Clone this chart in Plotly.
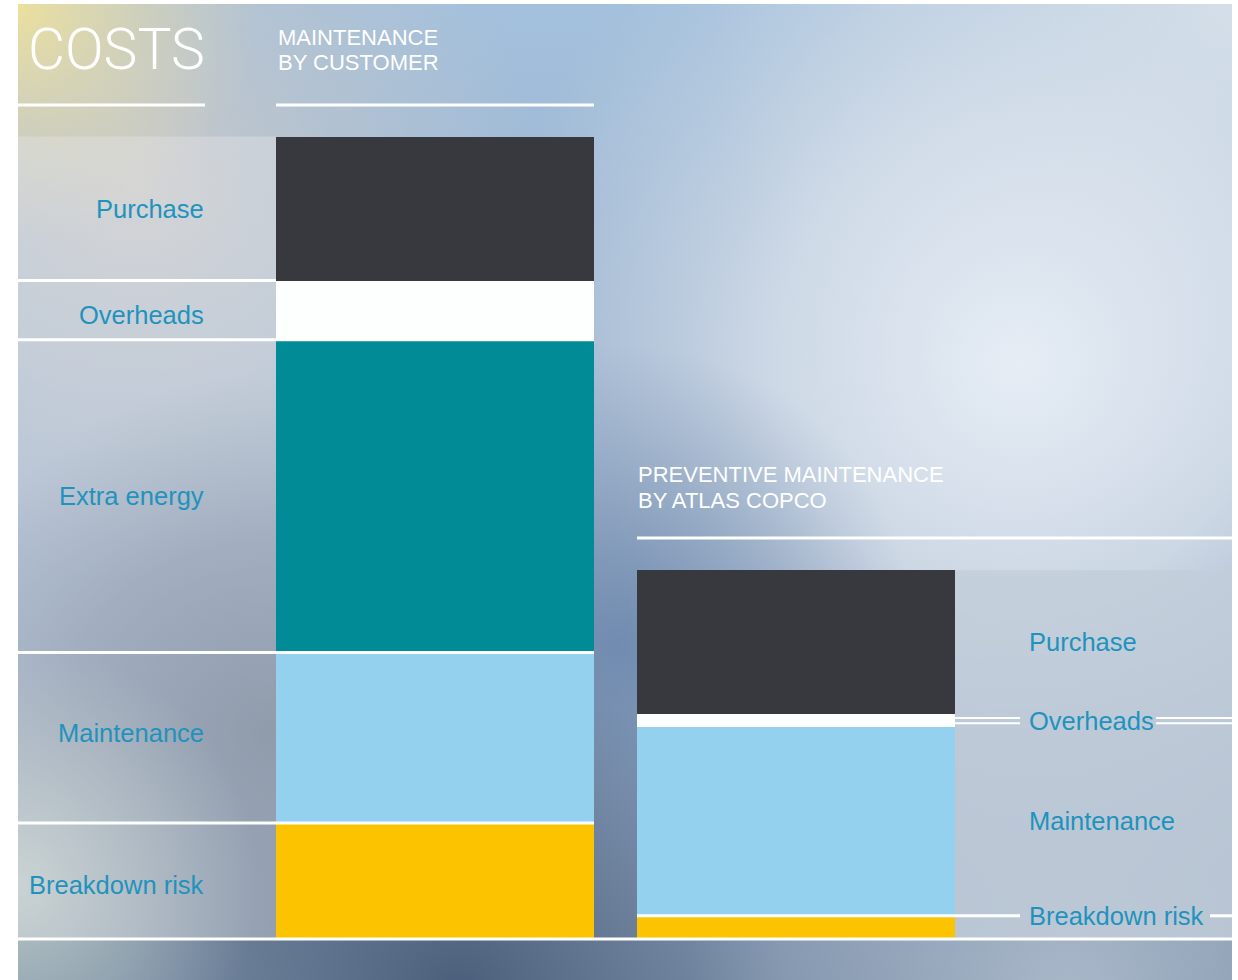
import base64
import plotly.graph_objects as go

# ---------------- data ----------------
segments = ["Purchase", "Overheads", "Extra energy", "Maintenance", "Breakdown risk"]
customer_costs = [18.0, 7.4, 39.1, 21.3, 14.5]      # maintenance by customer
atlas_costs = [18.0, 1.6, 0.0, 23.6, 2.9]           # preventive maintenance by Atlas Copco
seg_colors = ["#37393e", "#fdfefe", "#008b97", "#93d1ee", "#fbc300"]
bar_names = ["MAINTENANCE BY CUSTOMER", "PREVENTIVE MAINTENANCE BY ATLAS COPCO"]
title_text = "COSTS"
sub1 = ["MAINTENANCE", "BY CUSTOMER"]
sub2 = ["PREVENTIVE MAINTENANCE", "BY ATLAS COPCO"]

W, H = 1238, 980
PXU = 8.0            # pixels per value unit
BASE_PX = 939        # baseline pixel row
C0, C1, PITCH = 435, 796, 361


def px(x):
    return x / W


def py(y):
    return 1 - y / H


# ---------------- background (blurred photo look) ----------------
svg = f"""<svg xmlns="http://www.w3.org/2000/svg" width="1214" height="976" viewBox="0 0 1214 976">
<defs>
<linearGradient id="base" x1="0" y1="0" x2="0" y2="1">
 <stop offset="0" stop-color="#a3c0dc"/>
 <stop offset="0.45" stop-color="#9ab0cc"/>
 <stop offset="1" stop-color="#7a8ea8"/>
</linearGradient>
<radialGradient id="bright" cx="1000" cy="360" r="540" gradientUnits="userSpaceOnUse">
 <stop offset="0" stop-color="#e6edf5" stop-opacity="1"/>
 <stop offset="0.45" stop-color="#dae2ec" stop-opacity="0.8"/>
 <stop offset="1" stop-color="#ccd8e4" stop-opacity="0"/>
</radialGradient>
<radialGradient id="tr" cx="1214" cy="0" r="520" gradientUnits="userSpaceOnUse">
 <stop offset="0" stop-color="#d4dfe8" stop-opacity="1"/>
 <stop offset="1" stop-color="#c8d6e4" stop-opacity="0"/>
</radialGradient>
<radialGradient id="grey" cx="120" cy="180" r="400" gradientUnits="userSpaceOnUse">
 <stop offset="0" stop-color="#cbcac8" stop-opacity="0.95"/>
 <stop offset="0.6" stop-color="#c0c6cc" stop-opacity="0.45"/>
 <stop offset="1" stop-color="#c0c8d0" stop-opacity="0"/>
</radialGradient>
<radialGradient id="yel" cx="0" cy="0" r="240" gradientUnits="userSpaceOnUse">
 <stop offset="0" stop-color="#ece09e" stop-opacity="1"/>
 <stop offset="1" stop-color="#e0d8b0" stop-opacity="0"/>
</radialGradient>
<radialGradient id="dmid" cx="600" cy="640" r="300" gradientUnits="userSpaceOnUse">
 <stop offset="0" stop-color="#6c88ae" stop-opacity="0.9"/>
 <stop offset="1" stop-color="#7890b0" stop-opacity="0"/>
</radialGradient>
<radialGradient id="dleft" cx="250" cy="730" r="360" gradientUnits="userSpaceOnUse">
 <stop offset="0" stop-color="#5e7088" stop-opacity="1"/>
 <stop offset="0.55" stop-color="#6a7c94" stop-opacity="0.6"/>
 <stop offset="1" stop-color="#7a8ca2" stop-opacity="0"/>
</radialGradient>
<radialGradient id="dbot" cx="440" cy="990" r="330" gradientUnits="userSpaceOnUse">
 <stop offset="0" stop-color="#4a5d7a" stop-opacity="1"/>
 <stop offset="1" stop-color="#5a6c86" stop-opacity="0"/>
</radialGradient>
<radialGradient id="gl" cx="0" cy="880" r="240" gradientUnits="userSpaceOnUse">
 <stop offset="0" stop-color="#bccac6" stop-opacity="0.95"/>
 <stop offset="1" stop-color="#b0bec0" stop-opacity="0"/>
</radialGradient>
<radialGradient id="br" cx="1050" cy="990" r="380" gradientUnits="userSpaceOnUse">
 <stop offset="0" stop-color="#aebccc" stop-opacity="0.9"/>
 <stop offset="1" stop-color="#aebccc" stop-opacity="0"/>
</radialGradient>
</defs>
<rect width="1214" height="976" fill="url(#base)"/>
<rect width="1214" height="976" fill="url(#tr)"/>
<rect width="1214" height="976" fill="url(#bright)"/>
<rect width="1214" height="976" fill="url(#grey)"/>
<rect width="1214" height="976" fill="url(#dmid)"/>
<rect width="1214" height="976" fill="url(#dleft)"/>
<rect width="1214" height="976" fill="url(#dbot)"/>
<rect width="1214" height="976" fill="url(#br)"/>
<rect width="1214" height="976" fill="url(#gl)"/>
<rect width="1214" height="976" fill="url(#yel)"/>
</svg>"""
bg_uri = "data:image/svg+xml;base64," + base64.b64encode(svg.encode()).decode()

# ---------------- figure ----------------
fig = go.Figure()
for i in reversed(range(len(segments))):
    fig.add_trace(go.Bar(
        x=bar_names, y=[customer_costs[i], atlas_costs[i]],
        name=segments[i], marker=dict(color=seg_colors[i], line=dict(width=0)),
        width=318 / PITCH, hoverinfo="skip"))


def stack_ranges(vals):
    # stack from bottom (last category is at the bottom)
    out = {}
    acc = 0.0
    for i in reversed(range(len(vals))):
        out[i] = (acc, acc + vals[i])
        acc += vals[i]
    return out, acc


cust_rng, cust_total = stack_ranges(customer_costs)
atl_rng, atl_total = stack_ranges(atlas_costs)

shapes = []
# label panels (translucent)
shapes.append(dict(type="rect", xref="paper", yref="y", x0=px(18), x1=px(276),
                   y0=0, y1=cust_total, fillcolor="rgba(232,233,236,0.36)",
                   line=dict(width=0), layer="below"))
shapes.append(dict(type="rect", xref="paper", yref="y", x0=px(955), x1=px(1232),
                   y0=0, y1=atl_total, fillcolor="rgba(194,205,217,0.8)",
                   line=dict(width=0), layer="below"))

white = "#ffffff"
# left separators (top of every segment below Purchase)
for i in range(1, len(segments)):
    hi = cust_rng[i][1]
    x1 = 276 if i == 1 else 594
    shapes.append(dict(type="line", xref="paper", yref="y", x0=px(18), x1=px(x1),
                       y0=hi, y1=hi, line=dict(color=white, width=3)))
# baseline
shapes.append(dict(type="line", xref="paper", yref="y", x0=px(18), x1=px(1232),
                   y0=0, y1=0, line=dict(color=white, width=3)))
# right: maintenance / breakdown boundary
b = atl_rng[4][1]
shapes.append(dict(type="line", xref="paper", yref="y", x0=px(637), x1=px(1020),
                   y0=b, y1=b, line=dict(color=white, width=3)))
shapes.append(dict(type="line", xref="paper", yref="y", x0=px(1210), x1=px(1232),
                   y0=b, y1=b, line=dict(color=white, width=3)))
# right: overheads double lines
lo, hi = atl_rng[1]
mid = (lo + hi) / 2
for d in (-2.6 / PXU, 2.6 / PXU):
    for xa, xb in ((955, 1020), (1156, 1232)):
        shapes.append(dict(type="line", xref="paper", yref="y", x0=px(xa), x1=px(xb),
                           y0=mid + d, y1=mid + d, line=dict(color=white, width=2)))
# header underlines
for xa, xb, yy in ((18, 205, 105), (276, 594, 105), (637, 1232, 538)):
    shapes.append(dict(type="line", xref="paper", yref="paper", x0=px(xa), x1=px(xb),
                       y0=py(yy), y1=py(yy), line=dict(color=white, width=3)))

ann = []
LBL = dict(family="Liberation Sans, Arial, sans-serif", size=25.5, color="#1f93bd")
left_shift = [0, -5, 0, 5, -4]
for i, s in enumerate(segments):
    lo, hi = cust_rng[i]
    ann.append(dict(text=s, xref="paper", yref="y", x=px(206), y=(lo + hi) / 2,
                    yshift=left_shift[i],
                    xanchor="right", yanchor="middle", showarrow=False, font=LBL))
for i, s in enumerate(segments):
    if atlas_costs[i] <= 0:
        continue
    lo, hi = atl_rng[i]
    yy = hi if s == "Breakdown risk" else (lo + hi) / 2
    ann.append(dict(text=s, xref="paper", yref="y", x=px(1027), y=yy,
                    xanchor="left", yanchor="middle", showarrow=False, font=LBL))

ann.append(dict(text=title_text, xref="paper", yref="paper", x=px(26), y=py(49),
                xanchor="left", yanchor="middle", showarrow=False,
                font=dict(family="Roboto, sans-serif", size=57, weight=300, color="white")))
SUB = dict(family="Liberation Sans, Arial, sans-serif", size=22, color="white")
for t, yy in zip(sub1, (37, 63)):
    ann.append(dict(text=t, xref="paper", yref="paper", x=px(276), y=py(yy),
                    xanchor="left", yanchor="middle", showarrow=False, font=SUB))
for t, yy in zip(sub2, (474, 500)):
    ann.append(dict(text=t, xref="paper", yref="paper", x=px(636), y=py(yy),
                    xanchor="left", yanchor="middle", showarrow=False, font=SUB))

fig.update_layout(
    width=W, height=H, margin=dict(l=0, r=0, t=0, b=0),
    paper_bgcolor="white", plot_bgcolor="rgba(0,0,0,0)",
    barmode="stack", bargap=0, showlegend=False,
    xaxis=dict(visible=False, range=[-C0 / PITCH, (W - C0) / PITCH], fixedrange=True),
    yaxis=dict(visible=False, range=[-(H - BASE_PX) / PXU, BASE_PX / PXU], fixedrange=True),
    images=[dict(source=bg_uri, xref="paper", yref="paper", x=px(18), y=py(4),
                 sizex=px(1232 - 18), sizey=976 / H, xanchor="left", yanchor="top",
                 sizing="stretch", layer="below")],
    shapes=shapes, annotations=ann,
)

fig.write_html("out.html", config={"displayModeBar": False},
               post_script="document.body.style.margin='0';")
